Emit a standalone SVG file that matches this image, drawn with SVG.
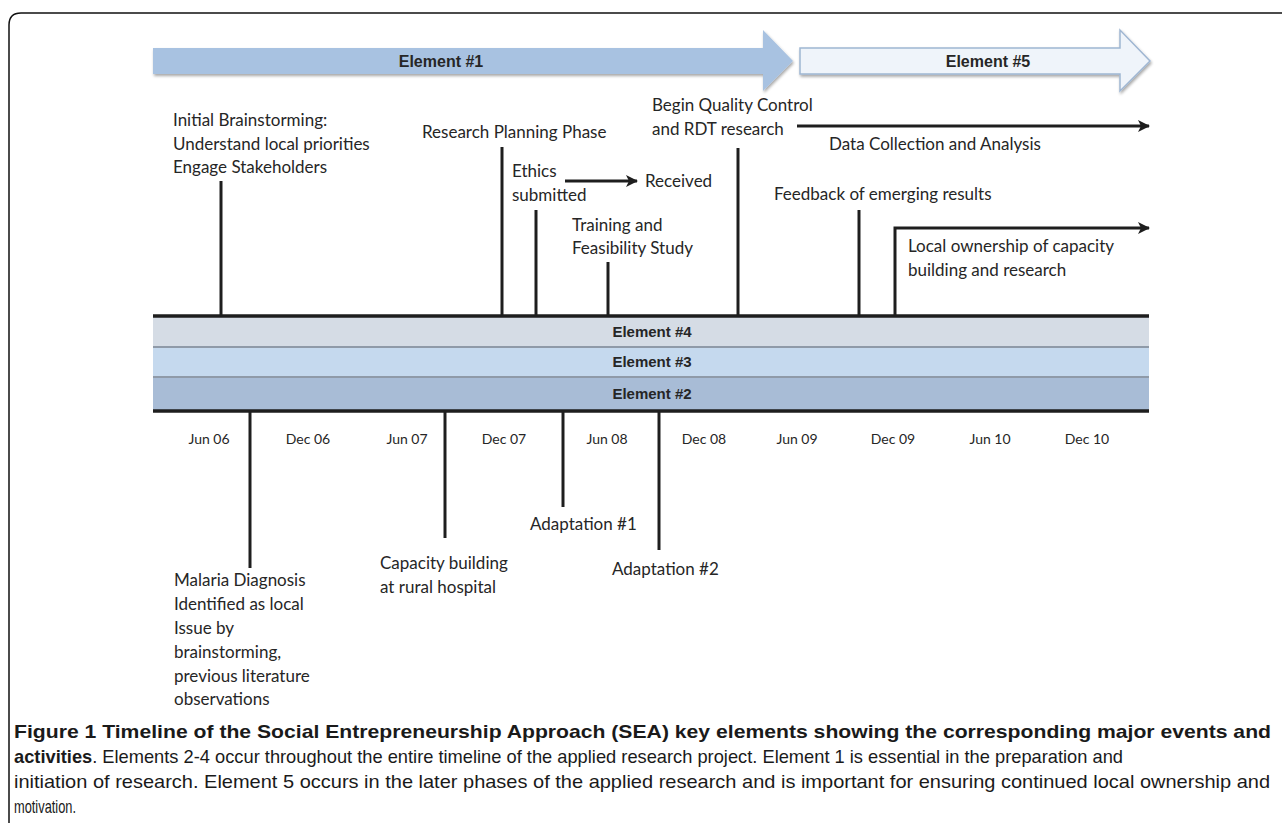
<svg xmlns="http://www.w3.org/2000/svg" width="1282" height="823" viewBox="0 0 1282 823">
<style>
.lbl{font-family:Lato,"Open Sans","Liberation Sans",sans-serif;font-size:17px;fill:#262626}
.date{font-family:Lato,"Liberation Sans",sans-serif;font-size:14px;fill:#262626;text-anchor:middle}
.el{font-family:"Liberation Sans",Arial,sans-serif;font-weight:bold;font-size:16px;fill:#262626;text-anchor:middle}
.band{font-family:"Liberation Sans",Arial,sans-serif;font-weight:bold;font-size:15px;fill:#262626;text-anchor:middle}
.cap{font-family:"Liberation Sans",Arial,sans-serif;font-size:19px;fill:#1a1a1a}
.b{font-weight:bold}
.tick{stroke:#1e1e1e;stroke-width:3;fill:none}
.axis{stroke:#1e1e1e;stroke-width:3.5}
</style>
<defs>
<marker id="ah" markerUnits="userSpaceOnUse" markerWidth="14" markerHeight="14" viewBox="0 0 14 14" refX="12" refY="7" orient="auto">
<path d="M1,1 L13,7 L1,13 L4,7 z" fill="#1e1e1e"/>
</marker>
<filter id="sh" x="-5%" y="-20%" width="110%" height="150%">
<feGaussianBlur in="SourceAlpha" stdDeviation="1.5"/>
<feOffset dx="1" dy="2" result="b"/>
<feComponentTransfer><feFuncA type="linear" slope="0.35"/></feComponentTransfer>
<feMerge><feMergeNode/><feMergeNode in="SourceGraphic"/></feMerge>
</filter>
</defs>
<rect width="1282" height="823" fill="#ffffff"/>
<path d="M9,823 V25 Q9,13 21,13 H1282" fill="none" stroke="#111" stroke-width="1.5"/>

<g id="element1">
<path d="M153,48 H763 V30 L793,61 L763,91 V74 H153 Z" fill="#a8c2e1" filter="url(#sh)"/>
<text class="el" x="441" y="67">Element #1</text>
</g>
<g id="element5">
<path d="M800,48 H1120 V30 L1150,61 L1120,91 V74 H800 Z" fill="#eff4fa" stroke="#9fb6d2" stroke-width="1.5" filter="url(#sh)"/>
<text class="el" x="988" y="67">Element #5</text>
</g>

<g id="bands">
<rect x="153" y="317" width="996" height="30" fill="#d5dce5"/>
<rect x="153" y="347" width="996" height="30" fill="#c5d9ee"/>
<rect x="153" y="377" width="996" height="34" fill="#a8bcd6"/>
<line x1="153" y1="347" x2="1149" y2="347" stroke="#8f9aa8" stroke-width="2"/>
<line x1="153" y1="377" x2="1149" y2="377" stroke="#8f9aa8" stroke-width="2"/>
<text class="band" x="652" y="337">Element #4</text>
<text class="band" x="652" y="367">Element #3</text>
<text class="band" x="652" y="399">Element #2</text>
<line class="axis" x1="153" y1="316" x2="1149" y2="316"/>
<line class="axis" x1="153" y1="411" x2="1149" y2="411"/>
</g>

<g id="dates">
<text class="date" x="209" y="444">Jun 06</text>
<text class="date" x="308" y="444">Dec 06</text>
<text class="date" x="407" y="444">Jun 07</text>
<text class="date" x="504" y="444">Dec 07</text>
<text class="date" x="607" y="444">Jun 08</text>
<text class="date" x="704" y="444">Dec 08</text>
<text class="date" x="797" y="444">Jun 09</text>
<text class="date" x="893" y="444">Dec 09</text>
<text class="date" x="990" y="444">Jun 10</text>
<text class="date" x="1087" y="444">Dec 10</text>
</g>

<g id="connectors">
<line class="tick" x1="221" y1="181" x2="221" y2="315"/>
<line class="tick" x1="502" y1="147" x2="502" y2="315"/>
<line class="tick" x1="536" y1="210" x2="536" y2="315"/>
<line class="tick" x1="608" y1="262" x2="608" y2="315"/>
<line class="tick" x1="738" y1="148" x2="738" y2="315"/>
<line class="tick" x1="859" y1="210" x2="859" y2="315"/>
<path class="tick" d="M895,315 V228 H1149" marker-end="url(#ah)"/>
<line class="tick" x1="797" y1="126" x2="1149" y2="126" marker-end="url(#ah)"/>
<line class="tick" x1="565" y1="181" x2="637" y2="181" marker-end="url(#ah)"/>
<line class="tick" x1="250" y1="412" x2="250" y2="568"/>
<line class="tick" x1="445" y1="412" x2="445" y2="538"/>
<line class="tick" x1="563" y1="412" x2="563" y2="507"/>
<line class="tick" x1="659" y1="412" x2="659" y2="550"/>
</g>

<g id="n-brainstorm">
<text class="lbl" x="173" y="126">Initial Brainstorming:</text>
<text class="lbl" x="173" y="150">Understand local priorities</text>
<text class="lbl" x="173" y="173">Engage Stakeholders</text>
</g>
<g id="n-planning">
<text class="lbl" x="422" y="138">Research Planning Phase</text>
</g>
<g id="n-ethics">
<text class="lbl" x="512" y="177">Ethics</text>
<text class="lbl" x="512" y="201">submitted</text>
</g>
<g id="n-received">
<text class="lbl" x="645" y="187">Received</text>
</g>
<g id="n-training">
<text class="lbl" x="572" y="231">Training and</text>
<text class="lbl" x="572" y="254">Feasibility Study</text>
</g>
<g id="n-quality">
<text class="lbl" x="652" y="111">Begin Quality Control</text>
<text class="lbl" x="652" y="135">and RDT research</text>
</g>
<g id="n-data">
<text class="lbl" x="829" y="150">Data Collection and Analysis</text>
</g>
<g id="n-feedback">
<text class="lbl" x="774" y="200">Feedback of emerging results</text>
</g>
<g id="n-local">
<text class="lbl" x="908" y="252">Local ownership of capacity</text>
<text class="lbl" x="908" y="276">building and research</text>
</g>
<g id="n-malaria">
<text class="lbl" x="174" y="586">Malaria Diagnosis</text>
<text class="lbl" x="174" y="610">Identified as local</text>
<text class="lbl" x="174" y="634">Issue by</text>
<text class="lbl" x="174" y="658">brainstorming,</text>
<text class="lbl" x="174" y="682">previous literature</text>
<text class="lbl" x="174" y="705">observations</text>
</g>
<g id="n-capacity">
<text class="lbl" x="380" y="569">Capacity building</text>
<text class="lbl" x="380" y="593">at rural hospital</text>
</g>
<g id="n-adapt1">
<text class="lbl" x="530" y="530">Adaptation #1</text>
</g>
<g id="n-adapt2">
<text class="lbl" x="612" y="575">Adaptation #2</text>
</g>

<g id="caption">
<text class="cap b" x="14" y="738" textLength="1257" lengthAdjust="spacingAndGlyphs">Figure 1 Timeline of the Social Entrepreneurship Approach (SEA) key elements showing the corresponding major events and</text>
<text class="cap" x="14" y="763" textLength="1109" lengthAdjust="spacingAndGlyphs"><tspan class="b">activities</tspan>. Elements 2-4 occur throughout the entire timeline of the applied research project. Element 1 is essential in the preparation and</text>
<text class="cap" x="14" y="788" textLength="1256" lengthAdjust="spacingAndGlyphs">initiation of research. Element 5 occurs in the later phases of the applied research and is important for ensuring continued local ownership and</text>
<text class="cap" x="14" y="813" textLength="62" lengthAdjust="spacingAndGlyphs">motivation.</text>
</g>
</svg>
